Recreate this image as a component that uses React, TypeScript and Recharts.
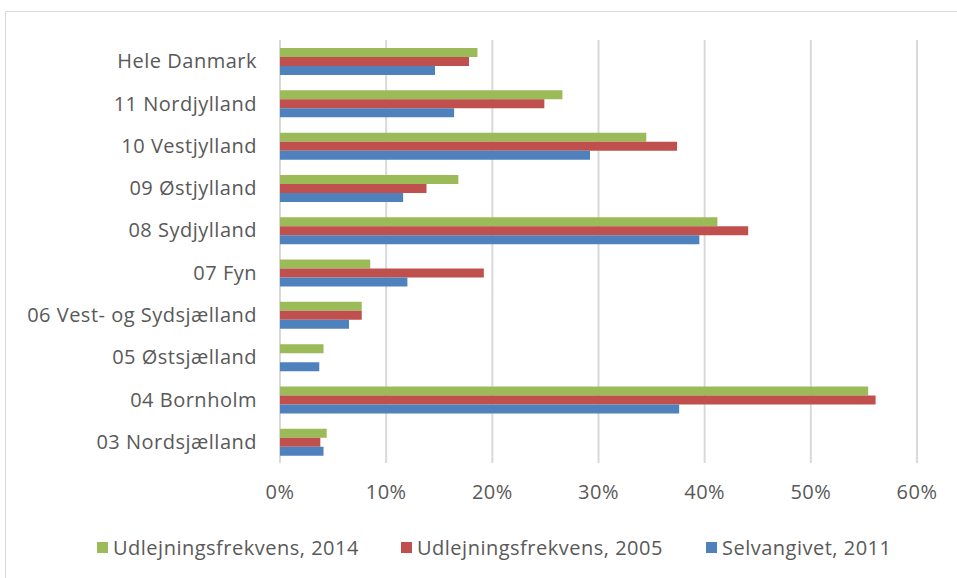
import React from 'react'
import { BarChart, Bar, XAxis, YAxis, CartesianGrid, Legend } from 'recharts'

const regions = [
  'Hele Danmark',
  '11 Nordjylland',
  '10 Vestjylland',
  '09 Østjylland',
  '08 Sydjylland',
  '07 Fyn',
  '06 Vest- og Sydsjælland',
  '05 Østsjælland',
  '04 Bornholm',
  '03 Nordsjælland',
]
const udlejning2014 = [0.186, 0.266, 0.345, 0.168, 0.412, 0.085, 0.077, 0.041, 0.554, 0.044]
const udlejning2005 = [0.178, 0.249, 0.374, 0.138, 0.441, 0.192, 0.077, 0, 0.561, 0.038]
const selvangivet2011 = [0.146, 0.164, 0.292, 0.116, 0.395, 0.12, 0.065, 0.037, 0.376, 0.041]
const xTicks = [0, 0.1, 0.2, 0.3, 0.4, 0.5, 0.6]

const data = regions.map((region, i) => ({
  region,
  u2014: udlejning2014[i],
  u2005: udlejning2005[i],
  s2011: selvangivet2011[i],
}))

const font = '"Open Sans", sans-serif'
const tickStyle = { fill: '#595959', fontSize: 20, fontFamily: font, letterSpacing: 0.5 }

const legendItems = [
  { label: 'Udlejningsfrekvens, 2014', color: '#9BBB59', left: 97 },
  { label: 'Udlejningsfrekvens, 2005', color: '#C0504D', left: 401 },
  { label: 'Selvangivet, 2011', color: '#4F81BD', left: 706 },
]

const LegendContent = () => (
  <div style={{ position: 'relative', height: 26, width: 957 }}>
    {legendItems.map((it) => (
      <div
        key={it.label}
        style={{
          position: 'absolute',
          left: it.left,
          top: 0,
          display: 'flex',
          alignItems: 'center',
          fontFamily: font,
          fontSize: 20,
          letterSpacing: 0.5,
          color: '#595959',
          whiteSpace: 'nowrap',
        }}
      >
        <span style={{ width: 11, height: 11, background: it.color, marginRight: 5 }} />
        {it.label}
      </div>
    ))}
  </div>
)

const App = () => {
  return (
    <div
      style={{
        position: 'absolute',
        left: 0,
        top: 0,
        width: 957,
        height: 578,
        overflow: 'hidden',
        background: '#fff',
      }}
    >
      <div
        style={{
          position: 'absolute',
          left: 5,
          top: 11,
          width: 1000,
          height: 700,
          border: '1px solid #d9d9d9',
        }}
      />
      <div style={{ position: 'absolute', left: 0, top: 0 }}>
        <BarChart
          width={957}
          height={578}
          data={data}
          layout="vertical"
          margin={{ top: 40, right: 40, bottom: 49, left: 0 }}
          barCategoryGap="19%"
          barGap={0}
        >
          <CartesianGrid horizontal={false} stroke="#d9d9d9" strokeWidth={2} />
          <XAxis
            type="number"
            domain={[0, 0.6]}
            ticks={xTicks}
            tickFormatter={(v: number) => `${Math.round(v * 100)}%`}
            axisLine={false}
            tickLine={false}
            tickSize={0}
            tickMargin={22}
            height={40}
            tick={tickStyle}
          />
          <YAxis
            type="category"
            dataKey="region"
            width={280}
            axisLine={false}
            tickLine={false}
            tickSize={0}
            tickMargin={23}
            interval={0}
            tick={tickStyle}
          />
          <Legend
            verticalAlign="bottom"
            content={<LegendContent />}
            wrapperStyle={{ left: 0, bottom: 18, width: 957 }}
          />
          <Bar dataKey="u2014" name="Udlejningsfrekvens, 2014" fill="#9BBB59" isAnimationActive={false} />
          <Bar dataKey="u2005" name="Udlejningsfrekvens, 2005" fill="#C0504D" isAnimationActive={false} />
          <Bar dataKey="s2011" name="Selvangivet, 2011" fill="#4F81BD" isAnimationActive={false} />
        </BarChart>
      </div>
    </div>
  )
}

export default App
